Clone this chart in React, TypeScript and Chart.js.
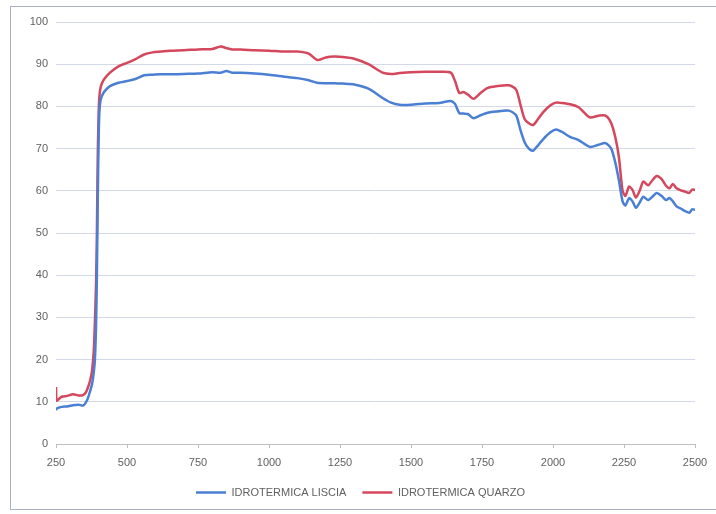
import React, { useEffect, useRef } from "react";
import { Chart, registerables } from "chart.js";

Chart.register(...registerables);

const wavelengths = [
  250, 252, 270, 290, 310, 330, 345, 355, 363, 370, 377, 383, 387, 391, 394, 397, 400, 403, 407, 412,
  420, 440, 470, 500, 530, 560, 590, 620, 650, 700, 750, 800, 830, 850, 870, 900, 950, 1000, 1050,
  1100, 1140, 1170, 1200, 1230, 1260, 1300, 1350, 1400, 1430, 1460, 1500, 1550, 1600, 1640, 1655,
  1670, 1685, 1700, 1720, 1745, 1770, 1800, 1845, 1870, 1885, 1900, 1915, 1930, 1945, 1965, 1990,
  2010, 2030, 2060, 2090, 2130, 2160, 2185, 2205, 2220, 2232, 2245, 2255, 2268, 2280, 2292, 2305,
  2318, 2335, 2350, 2365, 2382, 2398, 2410, 2422, 2435, 2450, 2465, 2480, 2490, 2500,
];

const liscia = [
  8.0, 8.4, 8.8, 8.9, 9.2, 9.3, 9.1, 9.8, 11, 12.5, 14.2, 17, 20, 28, 40, 58, 72, 79, 81.5, 82.5,
  83.5, 84.8, 85.6, 86, 86.5, 87.4, 87.5, 87.6, 87.6, 87.7, 87.8, 88.1, 88, 88.4, 88, 88, 87.8, 87.5,
  87.1, 86.7, 86.2, 85.6, 85.5, 85.5, 85.4, 85.2, 84.2, 82, 80.9, 80.4, 80.4, 80.7, 80.8, 81.3, 80.6,
  78.4, 78.3, 78.2, 77.2, 77.9, 78.5, 78.8, 79, 77.9, 74.5, 71.5, 70, 69.5, 70.6, 72.2, 73.8, 74.5,
  74, 72.8, 72, 70.4, 70.9, 71.3, 70, 66.5, 62.5, 57.5, 56.5, 58.3, 57.5, 56, 57.2, 58.6, 57.8, 58.6,
  59.5, 58.8, 57.8, 58.3, 57.5, 56.3, 55.8, 55.2, 54.8, 55.6, 55.5,
];

const quarzo = [
  13.5, 10.3, 11.2, 11.4, 11.8, 11.5, 11.6, 12.2, 13.5, 15, 17.4, 22, 29, 38, 50, 68, 78, 82.5, 84.5,
  85.5, 86.5, 88, 89.5, 90.3, 91.2, 92.3, 92.8, 93, 93.2, 93.3, 93.5, 93.6, 94.2, 93.8, 93.5, 93.5,
  93.3, 93.2, 93, 93, 92.5, 91, 91.6, 91.8, 91.7, 91.3, 90, 88, 87.7, 87.9, 88.1, 88.2, 88.2, 88, 86,
  83.2, 83.4, 82.8, 81.8, 83.2, 84.4, 84.8, 85, 84, 80.5, 77, 76, 75.6, 76.8, 78.6, 80.2, 80.9, 80.8,
  80.5, 79.8, 77.4, 77.8, 77.8, 76, 72.5, 68, 60, 58.8, 61, 60.2, 58.4, 60, 62.2, 61.3, 62.5, 63.5,
  62.8, 61.2, 60.6, 61.6, 60.6, 60.1, 59.8, 59.5, 60.3, 60.2,
];

const seriesNames = ["IDROTERMICA LISCIA", "IDROTERMICA QUARZO"];
const xTickMin = 250;
const xTickMax = 2500;
const xTickStep = 250;
const yTickMin = 0;
const yTickMax = 100;
const yTickStep = 10;

const BLUE = "#4a7fd3";
const RED = "#d4475c";
const TEXT = "#616161";

export default function App() {
  const canvasRef = useRef<HTMLCanvasElement | null>(null);

  useEffect(() => {
    if (!canvasRef.current) return;
    const toPoints = (vals: number[]) => wavelengths.map((w, i) => ({ x: w, y: vals[i] }));
    const font = { family: "'Liberation Sans', Arial, sans-serif", size: 11 };
    const chart = new Chart(canvasRef.current, {
      type: "line",
      data: {
        datasets: [
          {
            label: seriesNames[0],
            data: toPoints(liscia),
            borderColor: BLUE,
            backgroundColor: BLUE,
            borderWidth: 2.5,
            pointRadius: 0,
            tension: 0.25,
          },
          {
            label: seriesNames[1],
            data: toPoints(quarzo),
            borderColor: RED,
            backgroundColor: RED,
            borderWidth: 2.5,
            pointRadius: 0,
            tension: 0.25,
          },
        ],
      },
      options: {
        responsive: false,
        animation: false,
        layout: { padding: { left: 26, right: 21, top: 22, bottom: 6 } },
        plugins: {
          tooltip: { enabled: false },
          legend: {
            position: "bottom",
            labels: {
              usePointStyle: true,
              pointStyle: "line",
              pointStyleWidth: 30,
              padding: 16,
              color: TEXT,
              font,
            },
          },
        },
        scales: {
          x: {
            type: "linear",
            min: xTickMin,
            max: xTickMax,
            afterFit: (s: any) => {
              s.height = 27;
            },
            ticks: {
              stepSize: xTickStep,
              color: TEXT,
              font,
              padding: 8,
              maxRotation: 0,
              callback: (v: any) => String(v),
            },
            grid: {
              drawOnChartArea: false,
              drawTicks: true,
              tickLength: 4,
              color: "#bfbfbf",
            },
            border: { display: true, color: "#bfbfbf" },
          },
          y: {
            min: yTickMin,
            max: yTickMax,
            afterFit: (s: any) => {
              s.width = 30;
            },
            ticks: { stepSize: yTickStep, color: TEXT, font, padding: 8 },
            grid: { color: "#d3d9e6", drawTicks: false },
            border: { display: false },
          },
        },
      },
    });
    return () => chart.destroy();
  }, []);

  return (
    <div
      style={{
        position: "fixed",
        left: 0,
        top: 0,
        width: 716,
        height: 514,
        background: "#ffffff",
        overflow: "hidden",
      }}
    >
      <div
        style={{
          position: "absolute",
          left: 10,
          top: 6,
          width: 720,
          height: 504,
          border: "1px solid #aab2c2",
          boxSizing: "border-box",
        }}
      />
      <canvas
        ref={canvasRef}
        width={716}
        height={514}
        style={{ position: "absolute", left: 0, top: 0, width: 716, height: 514 }}
      />
    </div>
  );
}
